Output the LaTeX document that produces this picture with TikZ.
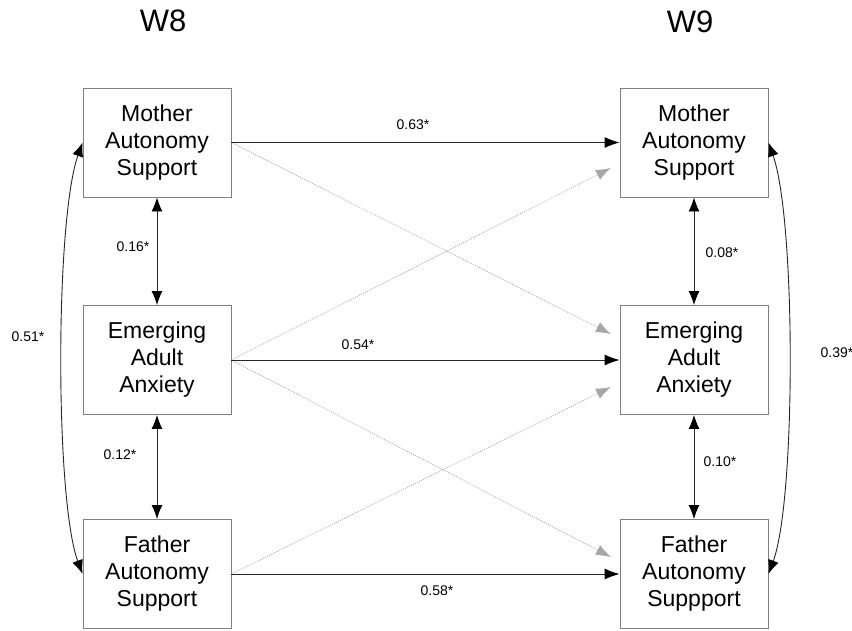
\documentclass[tikz,border=0pt]{standalone}
\usepackage{fontspec}
\setmainfont{Liberation Sans}
\usetikzlibrary{arrows.meta}
\begin{document}
\begin{tikzpicture}[x=1pt,y=-1pt,
  varbox/.style={draw=black!50,line width=0.9pt,minimum width=148pt,minimum height=109pt,inner sep=0pt,align=center,font=\fontsize{23}{27}\selectfont},
  wave/.style={font=\fontsize{31}{34}\selectfont},
  coef/.style={font=\fontsize{14}{16}\selectfont,inner sep=0pt},
  solidpath/.style={draw=black!85,line width=0.9pt,-{Latex[length=15pt,width=11pt,color=black]}},
  dbl/.style={draw=black!85,line width=0.9pt,{Latex[length=14pt,width=11pt,color=black]}-{Latex[length=14pt,width=11pt,color=black]}},
  dotpath/.style={draw=black!30,line width=0.8pt,dash pattern=on 1pt off 1.2pt,-{Latex[length=15pt,width=11pt,color=black!35]},color=black!33}]
\useasboundingbox (0,0) rectangle (852,630);
\node[wave] (w8) at (163,21) {W8};
\node[wave] (w9) at (690,22) {W9};
\node[varbox] (m8) at (157,142.5) {Mother\\Autonomy\\Support};
\node[varbox] (e8) at (157,360) {Emerging\\Adult\\Anxiety};
\node[varbox] (f8) at (157,574) {Father\\Autonomy\\Support};
\node[varbox] (m9) at (694,142.5) {Mother\\Autonomy\\Support};
\node[varbox] (e9) at (694,360) {Emerging\\Adult\\Anxiety};
\node[varbox] (f9) at (694,574) {Father\\Autonomy\\Suppport};
\coordinate (m9a) at (611,168);
\coordinate (e9a) at (611,334);
\coordinate (e9b) at (611,387);
\coordinate (f9a) at (611,557);
% cross-lagged (dotted)
\draw[dotpath] (m8.east) -- (e9a);
\draw[dotpath] (e8.east) -- (m9a);
\draw[dotpath] (e8.east) -- (f9a);
\draw[dotpath] (f8.east) -- (e9b);
% autoregressive
\draw[solidpath] (m8.east) -- (m9.west);
\draw[solidpath] (e8.east) -- (e9.west);
\draw[solidpath] (f8.east) -- (f9.west);
% within-wave correlations
\draw[dbl] (m8.south) -- (e8.north);
\draw[dbl] (e8.south) -- (f8.north);
\draw[dbl] (m9.south) -- (e9.north);
\draw[dbl] (e9.south) -- (f9.north);
\draw[dbl] (m8.west) .. controls (55,220) and (55,500) .. (f8.west);
\draw[dbl] (m9.east) .. controls (796,220) and (796,500) .. (f9.east);
% labels
\node[coef] (l63) at (413,125) {0.63*};
\node[coef] (l54) at (358,345) {0.54*};
\node[coef] (l58) at (437,591) {0.58*};
\node[coef] (l16) at (133,247) {0.16*};
\node[coef] (l12) at (120,455) {0.12*};
\node[coef] (l08) at (722,253) {0.08*};
\node[coef] (l10) at (720,462) {0.10*};
\node[coef] (l51) at (28,337) {0.51*};
\node[coef] (l39) at (837,353) {0.39*};
\end{tikzpicture}
\end{document}
